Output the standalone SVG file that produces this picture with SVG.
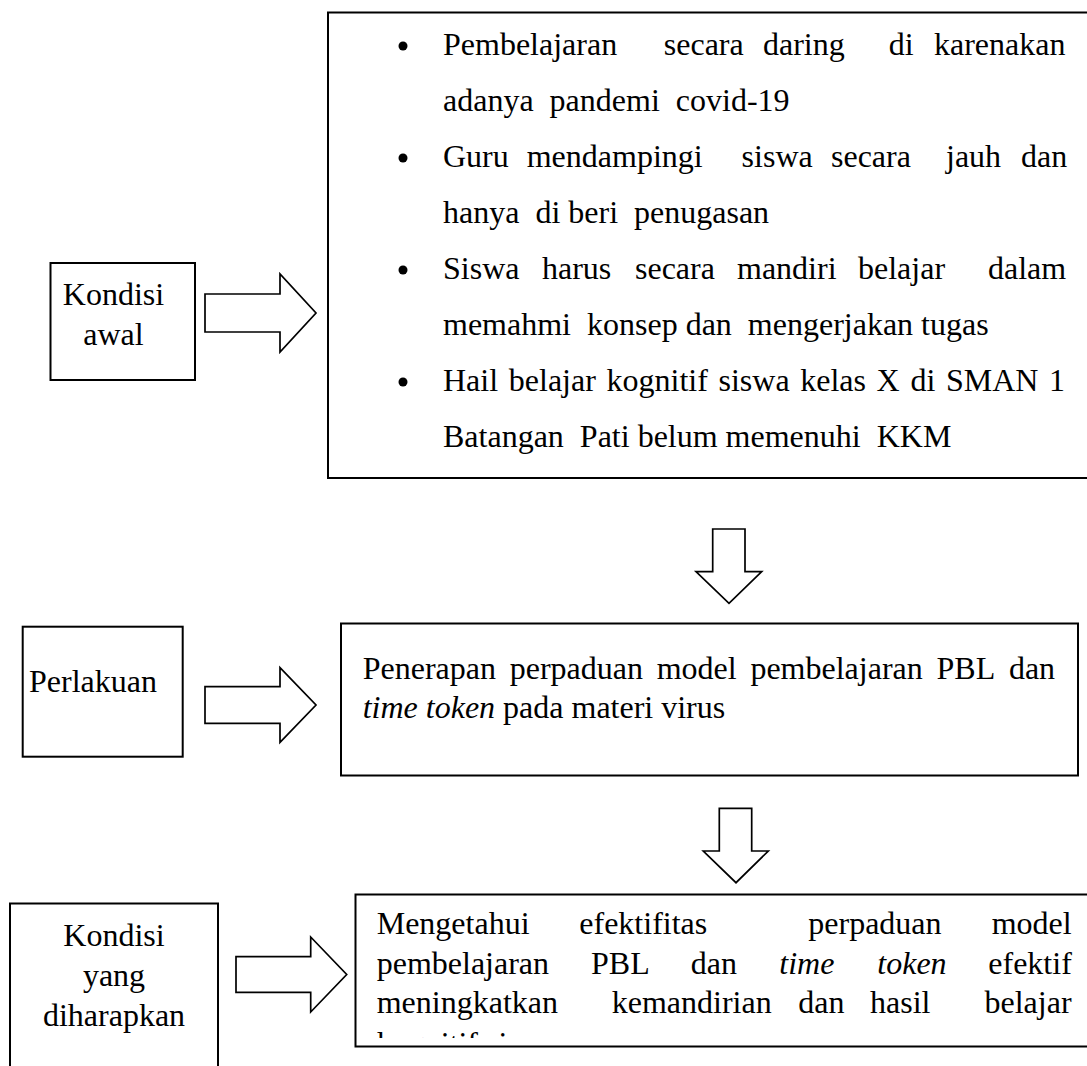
<svg xmlns="http://www.w3.org/2000/svg" width="1087" height="1066" viewBox="0 0 1087 1066">
<style>
  .box { fill: #ffffff; stroke: #000000; stroke-width: 2; }
  .arrow { fill: #ffffff; stroke: #000000; stroke-width: 1.7; stroke-linejoin: miter; }
  .t { font-family: "Liberation Serif", "Times New Roman", serif; font-size: 32px; fill: #000000; }
  .c { text-anchor: middle; }
  .i { font-style: italic; }
  .bul { fill: #000000; }
</style>
<defs>
  <clipPath id="clipBottom">
    <rect x="356" y="896" width="800" height="142"/>
  </clipPath>
</defs>
<rect x="0" y="0" width="1087" height="1066" fill="#ffffff"/>

<g id="kondisi-awal">
  <rect class="box" x="50.5" y="263" width="144.5" height="117"/>
  <text class="t c" x="113.5" y="305">Kondisi</text>
  <text class="t c" x="113.5" y="345">awal</text>
</g>

<g id="kondisi-awal-detail">
  <rect class="box" x="328" y="12.5" width="800" height="465.5"/>
  <circle class="bul" cx="403" cy="46" r="4.5"/>
  <circle class="bul" cx="403" cy="158" r="4.5"/>
  <circle class="bul" cx="403" cy="270" r="4.5"/>
  <circle class="bul" cx="403" cy="382" r="4.5"/>
  <text class="t" y="55"><tspan x="443">Pembelajaran</tspan><tspan x="663.8">secara</tspan><tspan x="763">daring</tspan><tspan x="888.8">di</tspan><tspan x="934">karenakan</tspan></text>
  <text class="t" y="111" xml:space="preserve" x="443">adanya  pandemi  covid-19</text>
  <text class="t" y="167"><tspan x="443">Guru</tspan><tspan x="526.7">mendampingi</tspan><tspan x="741.6">siswa</tspan><tspan x="831">secara</tspan><tspan x="946">jauh</tspan><tspan x="1021">dan</tspan></text>
  <text class="t" y="223" xml:space="preserve" x="443">hanya  di beri  penugasan</text>
  <text class="t" y="279"><tspan x="443">Siswa</tspan><tspan x="542">harus</tspan><tspan x="635">secara</tspan><tspan x="737">mandiri</tspan><tspan x="858">belajar</tspan><tspan x="988">dalam</tspan></text>
  <text class="t" y="335" xml:space="preserve" x="443">memahmi  konsep dan  mengerjakan tugas</text>
  <text class="t" y="391"><tspan x="443">Hail</tspan><tspan x="508.8">belajar</tspan><tspan x="606.5">kognitif</tspan><tspan x="718.5">siswa</tspan><tspan x="800.2">kelas</tspan><tspan x="876.6">X</tspan><tspan x="910.4">di</tspan><tspan x="945.9">SMAN</tspan><tspan x="1049">1</tspan></text>
  <text class="t" y="447" xml:space="preserve" x="443">Batangan  Pati belum memenuhi  KKM</text>
</g>

<g id="perlakuan">
  <rect class="box" x="22.7" y="626.7" width="160" height="130"/>
  <text class="t" x="29" y="692">Perlakuan</text>
</g>

<g id="perlakuan-detail">
  <rect class="box" x="341" y="623.5" width="737" height="152"/>
  <text class="t" y="679"><tspan x="362.7">Penerapan</tspan><tspan x="509.7">perpaduan</tspan><tspan x="656.7">model</tspan><tspan x="750.4">pembelajaran</tspan><tspan x="936.5">PBL</tspan><tspan x="1008.9">dan</tspan></text>
  <text class="t" y="718" x="362.7"><tspan class="i">time token</tspan> pada materi virus</text>
</g>

<g id="kondisi-harapan">
  <rect class="box" x="10" y="903.5" width="208" height="200"/>
  <text class="t c" x="114" y="946">Kondisi</text>
  <text class="t c" x="114" y="986">yang</text>
  <text class="t c" x="114" y="1026">diharapkan</text>
</g>

<g id="kondisi-harapan-detail">
  <rect class="box" x="355.5" y="894.5" width="800" height="152"/>
  <text class="t" y="934"><tspan x="376.7">Mengetahui</tspan><tspan x="579.3">efektifitas</tspan><tspan x="808.3">perpaduan</tspan><tspan x="991.7">model</tspan></text>
  <text class="t" y="974"><tspan x="376.7">pembelajaran</tspan><tspan x="591">PBL</tspan><tspan x="690.7">dan</tspan><tspan x="779.3" class="i">time</tspan><tspan x="877.3" class="i">token</tspan><tspan x="988.3">efektif</tspan></text>
  <text class="t" y="1013"><tspan x="376.7">meningkatkan</tspan><tspan x="611.7">kemandirian</tspan><tspan x="798.3">dan</tspan><tspan x="870">hasil</tspan><tspan x="984.5">belajar</tspan></text>
  <text class="t" y="1054" x="376.7" clip-path="url(#clipBottom)">kognitif siswa</text>
</g>

<g id="connectors">
  <path class="arrow" d="M205,294 H280 V274 L316,313 L280,352 V332 H205 Z"/>
  <path class="arrow" d="M205,686.7 H280 V667.7 L316,705 L280,742.3 V723.3 H205 Z"/>
  <path class="arrow" d="M236,956.7 H310.7 V937 L346.7,974.5 L310.7,1012 V992.3 H236 Z"/>
  <path class="arrow" d="M712.7,529 H745 V571.7 H761.7 L729,603.3 L696,571.7 H712.7 Z"/>
  <path class="arrow" d="M719.3,808.3 H751.7 V851 H768.3 L736,882.7 L703.3,851 H719.3 Z"/>
</g>
</svg>
